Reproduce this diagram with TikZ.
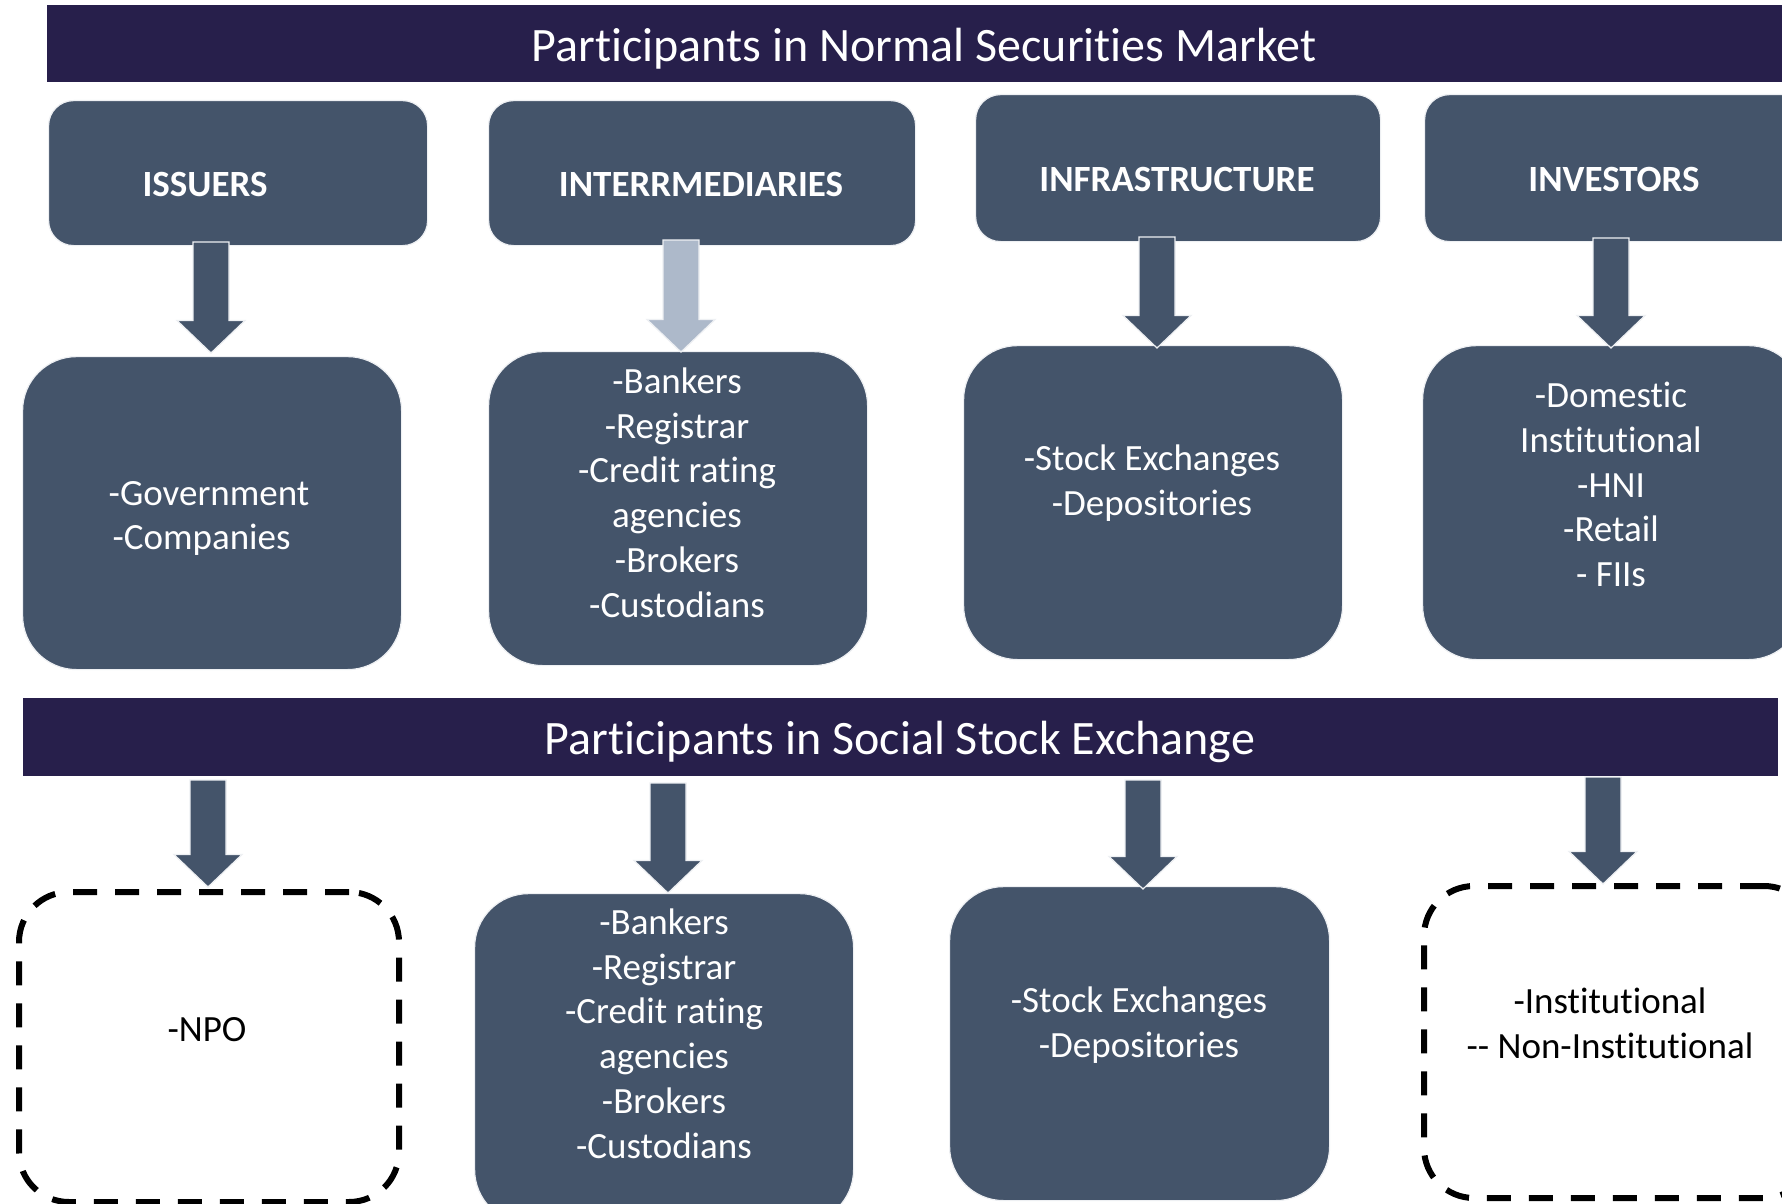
\documentclass[tikz,border=0pt]{standalone}
\usepackage{fontspec}
\setmainfont{Carlito}[Ligatures={NoCommon}]
\usetikzlibrary{calc}
\definecolor{bannerc}{HTML}{271F4B}
\definecolor{slate}{HTML}{44546A}
\definecolor{lightarrow}{HTML}{ADB9CA}
\definecolor{edgec}{HTML}{EEF0F3}
\tikzset{
  bannerbox/.style={fill=bannerc, draw=none, anchor=north west, inner sep=0pt},
  hdrbox/.style={fill=slate, draw=edgec, line width=0.6pt, rounded corners=12.5pt, anchor=north west, inner sep=0pt},
  contbox/.style={fill=slate, draw=edgec, line width=0.6pt, rounded corners=27pt, anchor=north west, inner sep=0pt},
  dashbox/.style={draw=black, line width=3pt, dash pattern=on 12pt off 9pt, rounded corners=25pt, anchor=north west, inner sep=0pt},
  titletext/.style={text=white, font=\fontsize{24}{29}\selectfont, inner sep=0pt},
  hdrtext/.style={text=white, font=\fontsize{18.5}{22.4}\selectfont\bfseries, inner sep=0pt},
  bodytext/.style={text=white, align=center, font=\fontsize{18.5}{22.4}\selectfont, inner sep=0pt},
  darktext/.style={text=black, align=center, font=\fontsize{18.5}{22.4}\selectfont, inner sep=0pt},
}
\newcommand\blockarrow[3]{%
  \path[fill=#3, draw=edgec, line width=0.6pt] let \p1=(#1), \p2=(#2) in
    (\x1-9pt,\y1) -- (\x1+9pt,\y1) -- (\x1+9pt,\y2+16.25pt) -- (\x1+17pt,\y2+16.25pt)
    -- (\x1,\y2) -- (\x1-17pt,\y2+16.25pt) -- (\x1-9pt,\y2+16.25pt) -- cycle;}
\begin{document}
\begin{tikzpicture}[x=0.5pt,y=-0.5pt]
\useasboundingbox (0,0) rectangle (1782,1204);
\clip (0,0) rectangle (1782,1204);
\fill[white] (0,0) rectangle (1782,1204);

% banners
\node[bannerbox, minimum width=870pt, minimum height=38.5pt] (ban1) at (47,5) {};
\node[titletext] (ttl1) at (924,48.5) {Participants in Normal Securities Market};
\node[bannerbox, minimum width=877.5pt, minimum height=39pt] (ban2) at (23,698) {};
\node[titletext] (ttl2) at (900,741.5) {Participants in Social Stock Exchange};

% header boxes
\node[hdrbox, minimum width=189.5pt, minimum height=72.5pt] (h1) at (48,100) {};
\node[hdrbox, minimum width=213.5pt, minimum height=72.5pt] (h2) at (488,100) {};
\node[hdrbox, minimum width=202.5pt, minimum height=73.5pt] (h3) at (975,94) {};
\node[hdrbox, minimum width=200pt, minimum height=73.5pt] (h4) at (1424,94) {};
\node[hdrtext] (h1t) at (205,185) {ISSUERS};
\node[hdrtext] (h2t) at (701,184) {INTERRMEDIARIES};
\node[hdrtext] (h3t) at (1177,180) {INFRASTRUCTURE};
\node[hdrtext] (h4t) at (1614,179) {INVESTORS};

% content boxes row 1
\node[contbox, minimum width=189.5pt, minimum height=156.5pt] (b1) at (22,356) {};
\node[contbox, minimum width=189.5pt, minimum height=157pt] (b2) at (488,351) {};
\node[contbox, minimum width=189.5pt, minimum height=157pt] (b3) at (963,345) {};
\node[contbox, minimum width=190pt, minimum height=157pt] (b4) at (1422,345) {};
\node[bodytext] (b1t) at (209,518.5) {-Government\\-Companies\hspace*{0.4em}};
\node[bodytext] (b2t) at (677,492.5) {-Bankers\\-Registrar\\-Credit rating\\agencies\\-Brokers\\-Custodians};
\node[bodytext] (b3t) at (1152,483.5) {-Stock Exchanges\\-Depositories};
\node[bodytext] (b4t) at (1611,484.5) {-Domestic\\Institutional\\-HNI\\-Retail\\- FIIs};

% content boxes row 2
\node[dashbox, minimum width=190pt, minimum height=155pt] (d1) at (16,889) {};
\node[contbox, minimum width=189.5pt, minimum height=165pt] (c2) at (474,893) {};
\node[contbox, minimum width=190pt, minimum height=157pt] (c3) at (949,886) {};
\node[dashbox, minimum width=195pt, minimum height=156pt] (d4) at (1421,883) {};
\node[darktext] (d1t) at (207,1029.5) {-NPO};
\node[bodytext] (c2t) at (664,1033.5) {-Bankers\\-Registrar\\-Credit rating\\agencies\\-Brokers\\-Custodians};
\node[bodytext] (c3t) at (1139,1025.5) {-Stock Exchanges\\-Depositories};
\node[darktext] (d4t) at (1610,1023.5) {-Institutional\\-\kern0pt- Non-Institutional};

% arrow start points
\coordinate (a1s) at (211,242);
\coordinate (a2s) at (681,240);
\coordinate (a3s) at (1157,237);
\coordinate (a4s) at (1611,238);
\coordinate (e1s) at (208,780);
\coordinate (e2s) at (668,783);
\coordinate (e3s) at (1143,780);
\coordinate (e4s) at (1603,777);

\blockarrow{a1s}{$(a1s |- b1.north)+(0,-3)$}{slate}
\blockarrow{a2s}{$(a2s |- b2.north)+(0,1)$}{lightarrow}
\blockarrow{a3s}{$(a3s |- b3.north)+(0,3)$}{slate}
\blockarrow{a4s}{$(a4s |- b4.north)+(0,3)$}{slate}
\blockarrow{e1s}{$(e1s |- d1.north)+(0,-2)$}{slate}
\blockarrow{e2s}{$(e2s |- c2.north)+(0,0)$}{slate}
\blockarrow{e3s}{$(e3s |- c3.north)+(0,3)$}{slate}
\blockarrow{e4s}{$(e4s |- d4.north)+(0,1)$}{slate}
\end{tikzpicture}
\end{document}
